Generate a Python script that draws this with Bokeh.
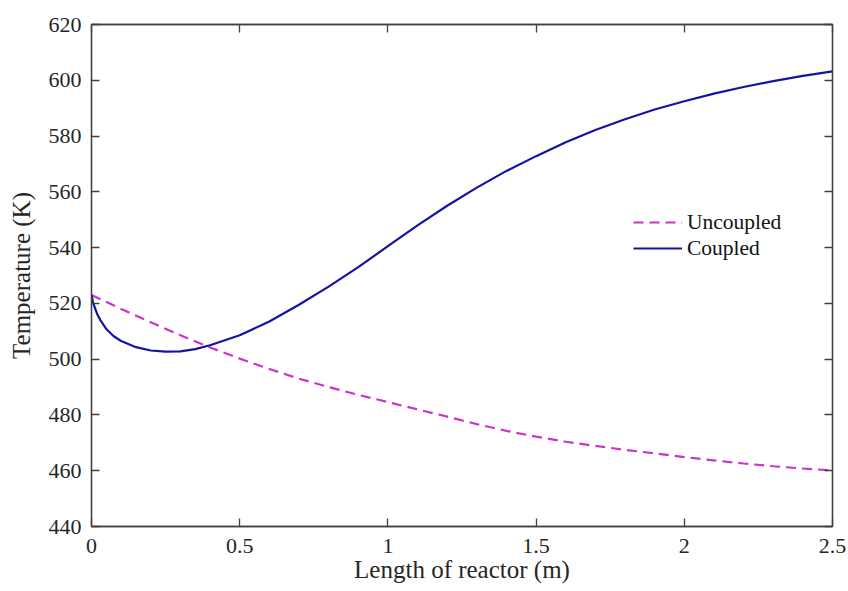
from bokeh.plotting import figure
from bokeh.models import (Range1d, FixedTicker, LinearAxis, Legend, LegendItem,
                          CustomJSTickFormatter)
from bokeh.embed import file_html
from bokeh.resources import INLINE

# Data
length_coupled = [0, 0.005, 0.01, 0.02, 0.03, 0.05, 0.075, 0.1, 0.15, 0.2, 0.25, 0.3, 0.35,
                  0.4, 0.5, 0.6, 0.7, 0.8, 0.9, 1.0, 1.1, 1.2, 1.3, 1.4, 1.5, 1.6, 1.7, 1.8,
                  1.9, 2.0, 2.1, 2.2, 2.3, 2.4, 2.5]
temp_coupled = [523, 520.5, 518.8, 516, 514, 510.8, 508.2, 506.5, 504.3, 503.1, 502.7, 502.8,
                503.6, 505, 508.6, 513.5, 519.5, 526, 533, 540.5, 548, 555, 561.5, 567.5,
                572.8, 577.8, 582.2, 586, 589.5, 592.5, 595.2, 597.6, 599.7, 601.6, 603.2]

length_uncoupled = [0, 0.1, 0.2, 0.3, 0.4, 0.5, 0.6, 0.7, 0.8, 0.9, 1.0, 1.1, 1.2, 1.3,
                    1.4, 1.5, 1.6, 1.7, 1.8, 1.9, 2.0, 2.1, 2.2, 2.3, 2.4, 2.5]
temp_uncoupled = [523, 518, 513.2, 508.6, 504.2, 500.2, 496.5, 493, 490, 487.2, 484.6, 482,
                  479.4, 476.7, 474.3, 472.2, 470.4, 468.9, 467.5, 466.2, 464.9, 463.7,
                  462.6, 461.6, 460.8, 460.1]

x_ticks = [0, 0.5, 1, 1.5, 2, 2.5]
y_ticks = [440, 460, 480, 500, 520, 540, 560, 580, 600, 620]

FONT = "Liberation Serif"
AX_COL = "#404040"
TXT_COL = "#262626"

p = figure(width=848, height=591, output_backend="svg", toolbar_location=None,
           x_range=Range1d(x_ticks[0], x_ticks[-1]), y_range=Range1d(y_ticks[0], y_ticks[-1]),
           min_border_left=91, min_border_right=16, min_border_top=24, min_border_bottom=65)

p.xgrid.visible = False
p.ygrid.visible = False
p.outline_line_color = AX_COL
p.outline_line_width = 1.3

plain = CustomJSTickFormatter(code="return String(tick)")
blank = CustomJSTickFormatter(code="return ''")


def style_axis(ax, ticks, formatter):
    ax.ticker = FixedTicker(ticks=ticks)
    ax.formatter = formatter
    ax.minor_tick_line_color = None
    ax.major_tick_in = 8
    ax.major_tick_out = 0
    ax.major_tick_line_color = AX_COL
    ax.major_tick_line_width = 1.3
    ax.axis_line_color = AX_COL
    ax.axis_line_width = 1.3
    ax.major_label_text_font = FONT
    ax.major_label_text_font_size = "22px"
    ax.major_label_text_color = TXT_COL
    ax.axis_label_text_font = FONT
    ax.axis_label_text_font_size = "25px"
    ax.axis_label_text_font_style = "normal"
    ax.axis_label_text_color = TXT_COL


xa = p.xaxis[0]
ya = p.yaxis[0]
style_axis(xa, x_ticks, plain)
style_axis(ya, y_ticks, plain)
xa.axis_label = "Length of reactor (m)"
ya.axis_label = "Temperature (K)"
xa.major_label_standoff = 12
xa.axis_label_standoff = 0
ya.major_label_standoff = 10
ya.axis_label_standoff = 11

top = LinearAxis()
style_axis(top, x_ticks, blank)
top.major_label_standoff = 0
p.add_layout(top, "above")
right = LinearAxis()
style_axis(right, y_ticks, blank)
right.major_label_standoff = 0
p.add_layout(right, "right")

r_unc = p.line(length_uncoupled, temp_uncoupled, line_color="#CC33CC", line_width=2.2,
               line_dash="10 6")
r_cou = p.line(length_coupled, temp_coupled, line_color="#1414A0", line_width=2.2)

legend = Legend(items=[LegendItem(label="Uncoupled", renderers=[r_unc]),
                       LegendItem(label="Coupled", renderers=[r_cou])],
                location=(542, 265))
legend.background_fill_alpha = 0
legend.border_line_color = None
legend.margin = 0
legend.padding = 0
legend.spacing = 0
legend.glyph_width = 49
legend.glyph_height = 26
legend.label_height = 26
legend.label_standoff = 5
legend.label_text_font = FONT
legend.label_text_font_size = "21.5px"
legend.label_text_color = "#111111"
p.add_layout(legend, "center")

open("out.html", "w").write(file_html(p, INLINE))
